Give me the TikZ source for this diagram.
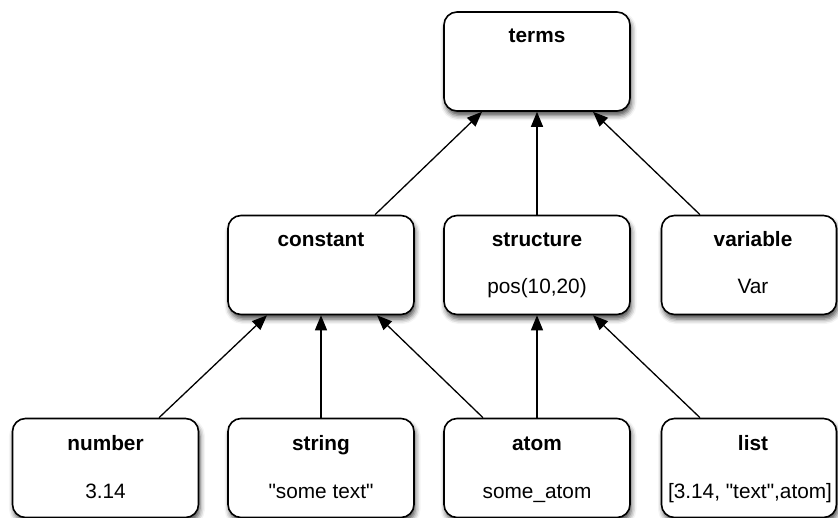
\documentclass[tikz,border=0pt]{standalone}
\usepackage{fontspec}
\setmainfont{Liberation Sans}[Ligatures=TeXOff]
\usetikzlibrary{arrows.meta,shadows.blur}

\tikzset{
  box/.style={draw=black, line width=1.6pt, rounded corners=13pt, fill=white,
    minimum width=186pt, minimum height=99pt, inner sep=0pt,
    blur shadow={shadow xshift=1.5pt, shadow yshift=-4.5pt, shadow blur radius=5pt, shadow opacity=70}},
  narrowbox/.style={box, minimum width=175pt},
  ttl/.style={anchor=base, inner sep=0pt, font=\bfseries\fontsize{20.8}{24}\selectfont},
  sub/.style={anchor=base, inner sep=0pt, font=\fontsize{20.8}{24}\selectfont},
  conn/.style={line width=1.3pt, -{Triangle[length=15pt,width=12pt]}},
}

\begin{document}
\begin{tikzpicture}[x=1pt, y=-1pt]
\useasboundingbox (0,0) rectangle (838,518);

% top level
\node[box] (terms) at (537,61.5) {};
% middle level
\node[box] (constant) at (321,265) {};
\node[box] (structure) at (537,265) {};
\node[narrowbox] (variable) at (749,265) {};
% bottom level
\node[box] (number) at (105.5,468) {};
\node[box] (string) at (321,468) {};
\node[box] (atom) at (537,468) {};
\node[narrowbox] (list) at (749,468) {};

% titles and examples
\node[ttl] (termsT) at ([yshift=-31pt]terms.north) {terms};
\node[ttl] (constantT) at ([yshift=-32pt]constant.north) {constant};
\node[ttl] (structureT) at ([yshift=-32pt]structure.north) {structure};
\node[sub] (structureS) at ([yshift=-79pt]structure.north) {pos(10,20)};
\node[ttl] (variableT) at ([xshift=4pt,yshift=-32pt]variable.north) {variable};
\node[sub] (variableS) at ([xshift=4pt,yshift=-79pt]variable.north) {Var};
\node[ttl] (numberT) at ([yshift=-33pt]number.north) {number};
\node[sub] (numberS) at ([yshift=-81pt]number.north) {3.14};
\node[ttl] (stringT) at ([yshift=-33pt]string.north) {string};
\node[sub] (stringS) at ([yshift=-81pt]string.north) {"some text"};
\node[ttl] (atomT) at ([yshift=-33pt]atom.north) {atom};
\node[sub] (atomS) at ([yshift=-81pt]atom.north) {some\_atom};
\node[ttl] (listT) at ([xshift=4pt,yshift=-33pt]list.north) {list};
\node[sub] (listS) at ([xshift=1pt,yshift=-81pt]list.north) {[3.14, "text",atom]};

% inheritance arrows
\draw[conn] ([xshift=54pt]constant.north) -- ([xshift=-55pt]terms.south);
\draw[conn] (structure.north) -- (terms.south);
\draw[conn] ([xshift=-49pt]variable.north) -- ([xshift=56pt]terms.south);
\draw[conn] ([xshift=53.5pt]number.north) -- ([xshift=-54pt]constant.south);
\draw[conn] (string.north) -- (constant.south);
\draw[conn] ([xshift=-54pt]atom.north) -- ([xshift=56pt]constant.south);
\draw[conn] (atom.north) -- (structure.south);
\draw[conn] ([xshift=-49pt]list.north) -- ([xshift=56pt]structure.south);
\end{tikzpicture}
\end{document}
